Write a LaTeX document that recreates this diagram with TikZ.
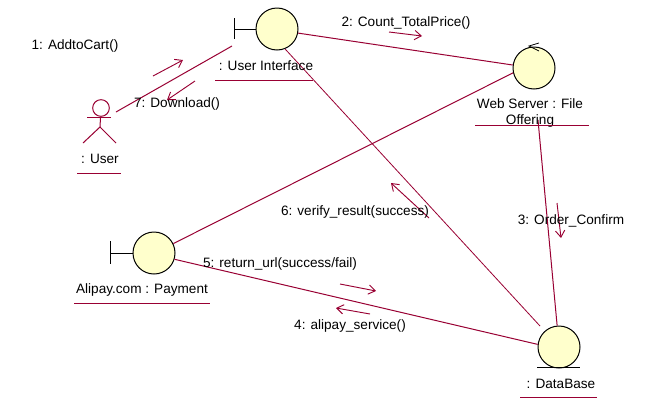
\documentclass[tikz,border=0pt]{standalone}
\usepackage{fontspec}
\usetikzlibrary{arrows.meta}
\setmainfont{Liberation Sans}
\definecolor{linkred}{HTML}{990033}
\definecolor{objfill}{HTML}{FFFFCC}
\tikzset{
    obj/.style={circle, draw=black, fill=objfill, line width=0.75pt, minimum size=31.5pt, inner sep=0pt},
    link/.style={draw=linkred, line width=0.75pt},
    msg/.style={draw=linkred, line width=0.7pt, -{Straight Barb[length=5pt,width=7pt]}},
    namerule/.style={draw=linkred, line width=0.75pt},
    lbl/.style={font=\fontsize{10.2pt}{12pt}\selectfont, inner sep=0pt, align=center},
    stereo/.style={draw=black, line width=0.75pt}
}
\begin{document}
\begin{tikzpicture}[x=0.75pt,y=-0.75pt]
    \useasboundingbox[fill=white] (0,0) rectangle (657,404);

    % objects
    \node[obj] (ui) at (277,29) {};
    \node[obj] (web) at (534,68) {};
    \node[obj] (pay) at (154,253) {};
    \node[obj] (db) at (559,347) {};

    % boundary marks
    \coordinate (uibar) at (234,29);
    \draw[stereo] (234,18) -- (234,39);
    \draw[stereo] (uibar) -- (ui);
    \coordinate (paybar) at (110,253);
    \draw[stereo] (110,241) -- (110,264);
    \draw[stereo] (paybar) -- (pay);

    % control mark
    \draw[stereo, line width=0.6pt] (539,43) -- (529,46) -- (539,51);

    % entity mark
    \draw[stereo] (537,367) -- (580,367);

    % actor
    \node[circle, draw=linkred, line width=0.75pt, minimum size=12.5pt, inner sep=0pt] (userhead) at (101,108) {};
    \coordinate (userhip) at (100,127);
    \draw[link] (userhead) -- (userhip);
    \draw[link] (87,117) -- (111,117);
    \draw[link] (83,143) -- (userhip) -- (116,143);

    % links
    \coordinate (userend) at (116,112);
    \coordinate (uiend) at (232,46);
    \coordinate (webend) at (538,120);
    \coordinate (dbend) at (540,326);
    \draw[link] (userend) -- (uiend);
    \draw[link] (ui.-11) -- (web.172);
    \draw[link, line width=0.6pt] (ui.-68) -- (dbend);
    \draw[link] (web.193) -- (pay.26);
    \draw[link] (webend) -- (db.95);
    \draw[link] (pay.-17) -- (db.173);

    % messages
    \draw[msg] (153,76) -- (183,60);
    \draw[msg] (195,81) -- (167,100);
    \draw[msg] (389,32) -- (422,36);
    \draw[msg] (557,203) -- (561,238);
    \draw[msg] (429,218) -- (391,183);
    \draw[msg] (340,284) -- (376,291);
    \draw[msg] (370,314) -- (336,308);

    % names
    \node[lbl] (uilabel) at (266,66) {: User Interface};
    \draw[namerule] (215,80) -- (313,80);
    \node[lbl] (weblabel) at (530,112.5) {Web Server : File\\Offering};
    \draw[namerule] (475,125) -- (589,125);
    \node[lbl] (paylabel) at (142,290) {Alipay.com : Payment};
    \draw[namerule] (74,303) -- (210,303);
    \node[lbl] (dblabel) at (561,384) {: DataBase};
    \draw[namerule] (520,397) -- (597,397);
    \node[lbl] (userlabel) at (100,159) {: User};
    \draw[namerule] (77,173) -- (121,173);

    % message labels
    \node[lbl] (m1) at (75,46) {1: AddtoCart()};
    \node[lbl] (m2) at (406,23) {2: Count\_TotalPrice()};
    \node[lbl] (m3) at (571,221) {3: Order\_Confirm};
    \node[lbl] (m4) at (350,326) {4: alipay\_service()};
    \node[lbl] (m5) at (280,264) {5: return\_url(success/fail)};
    \node[lbl] (m6) at (355,212) {6: verify\_result(success)};
    \node[lbl] (m7) at (177,104) {7: Download()};
\end{tikzpicture}
\end{document}
